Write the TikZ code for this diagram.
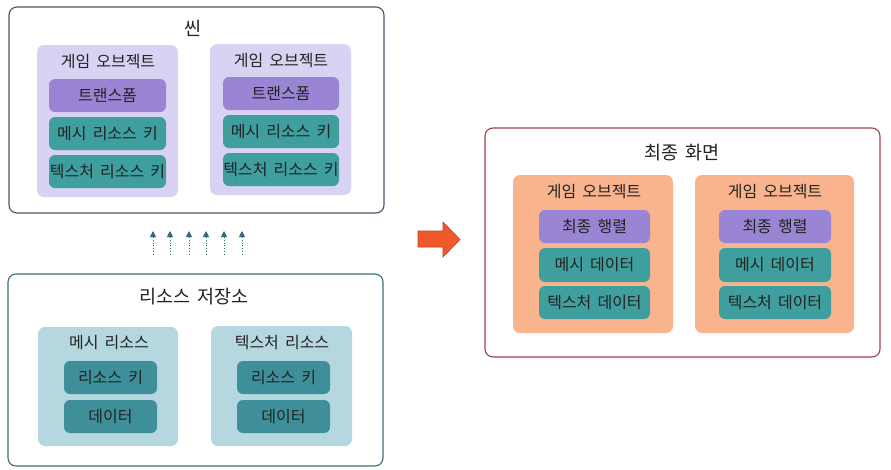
\documentclass[tikz,border=0pt]{standalone}
\usepackage{fontspec}
\setmainfont[WordSpace=1.7]{Noto Sans CJK KR}
\usetikzlibrary{arrows.meta}
\definecolor{txt}{HTML}{222222}
\definecolor{lav}{HTML}{D9D3F3}
\definecolor{purp}{HTML}{9A85D4}
\definecolor{teal1}{HTML}{3F9E9E}
\definecolor{lblue}{HTML}{B5D8E0}
\definecolor{teal2}{HTML}{3F8F9A}
\definecolor{orng}{HTML}{F9B48E}
\definecolor{scenebd}{HTML}{50546A}
\definecolor{resbd}{HTML}{3B6E74}
\definecolor{finbd}{HTML}{A0404A}
\definecolor{arrowc}{HTML}{2E6B78}
\definecolor{bigarr}{HTML}{F05A2A}
\definecolor{bigarrbd}{HTML}{C84020}
\tikzset{
  x=1pt, y=-1pt,
  outerbox/.style={draw, line width=1.1pt, fill=white, rounded corners=8pt, inner sep=0pt},
  groupbox/.style={rounded corners=7pt, inner sep=0pt},
  itembox/.style={rounded corners=6pt, inner sep=0pt, text=txt, font=\fontsize{16}{18}\selectfont},
  titletext/.style={text=txt, font=\fontsize{18.5}{21}\selectfont, inner sep=0pt},
  labeltext/.style={text=txt, font=\fontsize{16}{18}\selectfont, inner sep=0pt},
  dotarrow/.style={arrowc, line width=0.9pt, dotted, -{Triangle[length=6pt,width=6pt,line cap=butt]}},
}
\begin{document}
\begin{tikzpicture}
\useasboundingbox[fill=white] (0,0) rectangle (891,469);

% Scene
\node[outerbox, draw=scenebd, minimum width=375pt, minimum height=206pt] (scene) at (196.5,110) {};
\node[titletext] (scenet) at (193,28) {씬};
\node[groupbox, fill=lav, minimum width=141pt, minimum height=152pt] (go1) at (107.5,121) {};
\node[labeltext] (go1t) at (108,62) {게임 오브젝트};
\node[itembox, fill=purp, minimum width=117pt, minimum height=33pt] (tf1) at (107.5,95.5) {트랜스폼};
\node[itembox, fill=teal1, minimum width=117pt, minimum height=33pt] (mk1) at (107.5,133.5) {메시 리소스 키};
\node[itembox, fill=teal1, minimum width=117pt, minimum height=33pt] (tk1) at (107.5,171.5) {텍스처 리소스 키};

\node[groupbox, fill=lav, minimum width=141pt, minimum height=151pt] (go2) at (280.5,119.5) {};
\node[labeltext] (go2t) at (281,61) {게임 오브젝트};
\node[itembox, fill=purp, minimum width=116pt, minimum height=33pt] (tf2) at (281,93.5) {트랜스폼};
\node[itembox, fill=teal1, minimum width=116pt, minimum height=33pt] (mk2) at (281,131.5) {메시 리소스 키};
\node[itembox, fill=teal1, minimum width=116pt, minimum height=33pt] (tk2) at (281,169.5) {텍스처 리소스 키};

% dotted arrows
\foreach \i/\xx in {1/153,2/170,3/189,4/206,5/224,6/242}{
  \coordinate (s\i) at (\xx,255);
  \coordinate (e\i) at (\xx,231);
  \draw[dotarrow] (s\i) -- (e\i);
}

% Resource store
\node[outerbox, draw=resbd, minimum width=375pt, minimum height=192pt] (res) at (195.5,370) {};
\node[titletext] (rest) at (194,297) {리소스 저장소};
\node[groupbox, fill=lblue, minimum width=140pt, minimum height=119pt] (mr) at (108,386.5) {};
\node[labeltext] (mrt) at (109,343) {메시 리소스};
\node[itembox, fill=teal2, minimum width=93pt, minimum height=33pt] (mrk) at (110.5,377.5) {리소스 키};
\node[itembox, fill=teal2, minimum width=93pt, minimum height=33pt] (mrd) at (110.5,416.5) {데이터};

\node[groupbox, fill=lblue, minimum width=141pt, minimum height=120pt] (tr) at (281.5,386) {};
\node[labeltext] (trt) at (282,343) {텍스처 리소스};
\node[itembox, fill=teal2, minimum width=93pt, minimum height=33pt] (trk) at (283.5,377.5) {리소스 키};
\node[itembox, fill=teal2, minimum width=93pt, minimum height=33pt] (trd) at (283.5,416.5) {데이터};

% big arrow
\draw[fill=bigarr, draw=bigarrbd, line width=0.6pt, line join=miter]
  (418,231) -- (443,231) -- (443,222) -- (460,239.5) -- (443,257) -- (443,247) -- (418,247) -- cycle;

% Final screen
\node[outerbox, draw=finbd, minimum width=395pt, minimum height=229pt] (fin) at (682.5,242.5) {};
\node[titletext] (fint) at (682,153) {최종 화면};
\node[groupbox, fill=orng, minimum width=160pt, minimum height=158pt] (fo1) at (593,254) {};
\node[labeltext] (fo1t) at (594,192) {게임 오브젝트};
\node[itembox, fill=purp, minimum width=111pt, minimum height=33pt] (fm1) at (594.5,226.5) {최종 행렬};
\node[itembox, fill=teal1, minimum width=111pt, minimum height=34pt] (fd1) at (594.5,265) {메시 데이터};
\node[itembox, fill=teal1, minimum width=111pt, minimum height=33pt] (ft1) at (594.5,302.5) {텍스처 데이터};

\node[groupbox, fill=orng, minimum width=159pt, minimum height=158pt] (fo2) at (774.5,254) {};
\node[labeltext] (fo2t) at (775,192) {게임 오브젝트};
\node[itembox, fill=purp, minimum width=112pt, minimum height=33pt] (fm2) at (775,226.5) {최종 행렬};
\node[itembox, fill=teal1, minimum width=112pt, minimum height=34pt] (fd2) at (775,265) {메시 데이터};
\node[itembox, fill=teal1, minimum width=112pt, minimum height=33pt] (ft2) at (775,302.5) {텍스처 데이터};
\end{tikzpicture}
\end{document}
